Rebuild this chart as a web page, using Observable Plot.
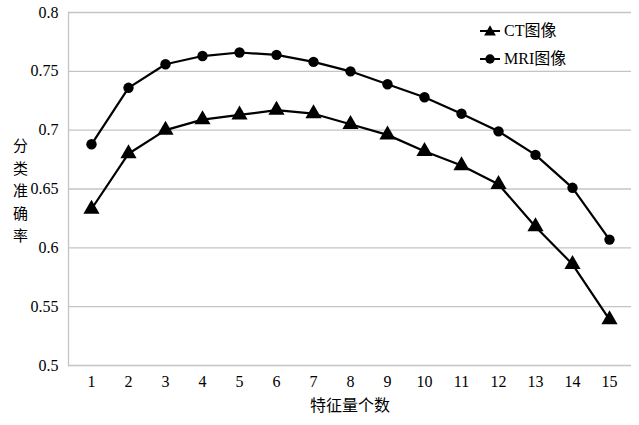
<!DOCTYPE html>
<html><head><meta charset="utf-8">
<script src="https://cdn.jsdelivr.net/npm/d3@7"></script>
<script src="https://cdn.jsdelivr.net/npm/@observablehq/plot@0.6"></script>
<style>
body{margin:0;background:#fff;}
#wrap{position:relative;width:639px;height:425px;font-family:"Liberation Serif","Noto Sans CJK SC",serif;}
#legend{position:absolute;left:478px;top:17px;font-size:16px;color:#000;line-height:28px;}
#legend div{display:flex;align-items:center;height:28px;}
#legend svg{margin-right:2px;}
</style></head>
<body><div id="wrap"><div id="legend"></div></div>
<script>
const features = [1,2,3,4,5,6,7,8,9,10,11,12,13,14,15];
const ctValues = [0.633,0.680,0.700,0.709,0.713,0.717,0.714,0.705,0.696,0.682,0.670,0.654,0.618,0.586,0.539];
const mriValues = [0.688,0.736,0.756,0.763,0.766,0.764,0.758,0.750,0.739,0.728,0.714,0.699,0.679,0.651,0.607];
const seriesNames = ["CT图像","MRI图像"];
const yTicks = [0.5,0.55,0.6,0.65,0.7,0.75,0.8];
const xLabel = "特征量个数";
const yLabel = "分类准确率";

const ct = features.map((f,i)=>({f, v: ctValues[i]}));
const mri = features.map((f,i)=>({f, v: mriValues[i]}));
const FF = "'Liberation Serif','Noto Sans CJK SC',serif";

const chart = Plot.plot({
  width: 639, height: 425,
  marginLeft: 68, marginRight: 8, marginTop: 12, marginBottom: 60,
  style: {fontSize: "16px", color: "#000", background: "#fff"},
  x: {type: "point", domain: features, padding: 0.5, label: null},
  y: {domain: [0.5, 0.8], label: null},
  marks: [
    Plot.gridY(yTicks, {stroke: "#c4c4c4", strokeOpacity: 1, strokeWidth: 1.3}),
    Plot.frame({anchor: "left", stroke: "#c4c4c4", strokeWidth: 1.3}),
    Plot.axisY(yTicks, {tickSize: 0, tickPadding: 10, tickFormat: d => String(+d.toFixed(2)), fontSize: 16}),
    Plot.axisX({tickSize: 0, tickPadding: 10, fontSize: 16}),
    Plot.line(ct, {x: "f", y: "v", stroke: "#000", strokeWidth: 2.2}),
    Plot.line(mri, {x: "f", y: "v", stroke: "#000", strokeWidth: 2.2}),
    Plot.dot(ct, {x: "f", y: "v", symbol: "triangle", r: 6, fill: "#000"}),
    Plot.dot(mri, {x: "f", y: "v", symbol: "circle", r: 5.2, fill: "#000"}),
    Plot.text([xLabel], {frameAnchor: "bottom", dy: 45, fontSize: 16, fill: "#000"}),
    Plot.text([yLabel.split("").join("\n")], {frameAnchor: "left", textAnchor: "middle", dx: -48, lineHeight: 1.5, fontSize: 15, fill: "#000"})
  ]
});
d3.select(chart).attr("font-family", null).style("font-family", FF);
d3.select(chart).selectAll("g").attr("font-family", null).attr("font-variant", null);
d3.select(chart).selectAll("text").style("font-family", FF).style("font-variant", "normal");
document.getElementById("wrap").prepend(chart);

const legend = document.getElementById("legend");
const syms = ["triangle","circle"];
seriesNames.forEach((name, i) => {
  const row = document.createElement("div");
  const sym = d3.symbol().type(syms[i] === "triangle" ? d3.symbolTriangle : d3.symbolCircle).size(syms[i] === "triangle" ? 60 : 70)();
  row.innerHTML = `<svg width="24" height="14"><line x1="2" x2="22" y1="7" y2="7" stroke="#000" stroke-width="2"/><path d="${sym}" transform="translate(12,${syms[i]==="triangle"?8:7})" fill="#000"/></svg><span>${name}</span>`;
  legend.appendChild(row);
});
</script>
</body></html>
